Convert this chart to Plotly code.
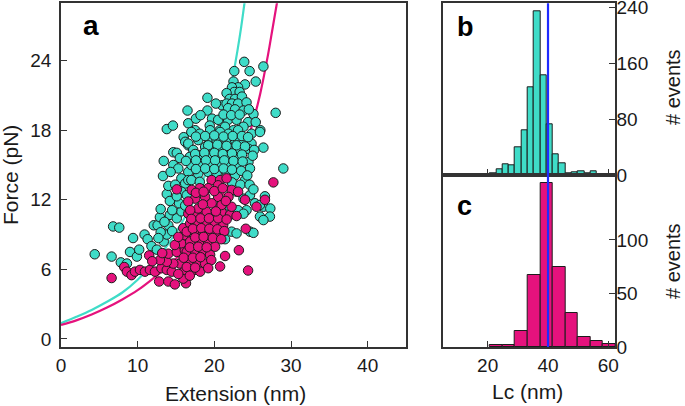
import plotly.graph_objects as go

# ---------------- data ----------------
TURQ_EXT = [
    4.4, 6.6, 6.8, 7.6, 7.8, 8.6, 9.0, 9.4, 9.9, 10.2, 10.9, 11.3, 11.8, 12.1, 12.6, 12.5, 12.9, 13.4, 13.8, 14.0,
    14.2, 15.1, 15.7, 13.0, 12.7, 14.5, 13.5,
    13.8, 14.6, 16.0, 16.2, 16.6, 14.65, 15.1, 15.5, 13.4, 14.65, 15.3, 16.6, 13.3, 15.7, 16.2, 16.6, 15.7, 13.8,
    16.4, 14.2, 15.4, 16.2, 13.0, 14.5, 14.0, 14.9, 14.3, 15.1,
    16.5, 16.6, 17.6, 17.5, 19.1, 19.1, 19.7, 20.5, 19.4, 20.7,
    23.9, 26.4, 22.6, 24.6, 25.4, 24.0, 22.5, 23.1, 22.3, 22.6, 23.3, 21.6, 22.0, 22.7, 23.6, 21.0, 21.6, 22.3,
    23.1, 24.2, 21.8, 22.7, 23.8, 25.1, 28.0, 21.8, 22.9, 24.4, 25.4, 21.4, 23.8, 22.5, 26.0, 20.2,
    17.0, 18.1, 19.45, 20.75, 21.85, 23.1, 24.85, 25.95,
    16.6, 17.9, 19.2, 20.3, 21.6, 22.7, 23.8, 24.85, 26.4,
    17.25, 18.8, 19.9, 20.95, 22.25, 23.35, 24.45,
    16.8, 18.1, 19.2, 20.5, 21.6, 22.9, 24.45,
    17.0, 18.35, 19.45, 20.75, 21.85, 22.9, 24.65,
    17.9, 19.2, 20.3, 21.6, 22.7, 24.0,
    17.0, 18.1, 29.0,
    22.9, 23.8, 24.65, 25.3, 26.6, 26.4, 27.3, 25.95, 24.2, 23.1,
    17.6, 18.8, 20.0, 21.2, 22.4, 23.6, 24.4,
    19.2, 20.4, 21.6, 22.9, 24.0, 25.2,
    17.5, 18.7, 20.0, 21.1, 22.3, 23.6, 25.0,
    16.3, 17.6, 18.9, 20.1, 21.3, 22.5, 23.7,
    17.6, 18.8, 20.0, 21.2, 22.3, 23.5, 24.3,
    18.2, 21.2, 22.2, 23.3, 24.5,
    22.3, 23.4, 24.6, 25.1,
    23.8, 25.95, 27.25, 26.4, 24.65, 25.1, 22.25, 22.9, 21.4, 22.0,
]
TURQ_FORCE = [
    7.3, 7.1, 9.7, 9.6, 6.6, 6.5, 7.5, 8.7, 7.1, 7.7, 9.0, 8.6, 8.0, 9.8, 9.8, 7.7, 10.5, 8.4, 9.0, 9.8,
    10.7, 10.4, 11.0, 9.2, 8.7, 9.3, 10.1,
    18.1, 18.4, 17.4, 17.0, 16.7, 16.1, 16.05, 15.6, 15.35, 15.0, 14.7, 14.4, 14.05, 13.85, 13.4, 13.7, 12.7, 12.5,
    12.4, 11.9, 11.7, 11.5, 11.2, 11.1, 13.2, 13.3, 14.4, 12.3,
    19.7, 18.6, 19.0, 18.0, 20.8, 19.7, 19.0, 18.9, 18.4, 18.0,
    23.9, 23.5, 23.1, 23.1, 22.2, 21.95, 22.2, 21.7, 21.7, 21.3, 21.3, 21.2, 20.7, 20.7, 20.9, 20.15, 20.3, 20.3,
    20.3, 20.4, 19.9, 19.8, 19.7, 19.4, 19.5, 18.9, 18.9, 18.7, 18.7, 18.3, 18.3, 18.0, 18.0, 20.3,
    17.85, 17.7, 18.0, 17.85, 17.7, 18.0, 17.7, 17.85,
    16.85, 17.15, 17.3, 17.15, 17.0, 17.15, 17.0, 16.85, 16.5,
    16.3, 16.55, 16.4, 16.3, 16.4, 16.3, 16.4,
    15.7, 15.85, 15.7, 15.7, 15.7, 15.55, 15.25,
    15.0, 15.15, 15.0, 15.15, 15.15, 14.85, 14.7,
    14.25, 14.4, 14.25, 14.4, 14.1, 13.7,
    13.7, 13.55, 14.7,
    12.7, 12.1, 12.4, 11.7, 12.3, 11.4, 11.25, 11.55, 11.1, 11.1,
    17.45, 17.5, 17.55, 17.45, 17.5, 17.5, 17.4,
    16.7, 16.75, 16.65, 16.7, 16.6, 16.3,
    15.95, 16.05, 16.05, 15.95, 16.0, 15.9, 15.8,
    15.35, 15.4, 15.4, 15.4, 15.4, 15.35, 15.3,
    14.65, 14.7, 14.65, 14.7, 14.6, 14.5, 14.1,
    19.3, 19.35, 19.3, 19.35, 19.8,
    13.5, 13.3, 13.3, 12.9,
    10.8, 10.55, 10.55, 10.25, 9.25, 9.15, 9.25, 9.1, 8.6, 11.4,
]

MAG_EXT = [
    6.6, 8.25, 8.6, 9.2, 9.65, 10.3, 10.95, 11.6, 12.25, 13.1, 13.8, 14.45, 12.8, 14.0, 14.85, 16.3, 15.95, 16.15,
    15.5, 14.65, 13.8, 12.9, 14.0, 15.1, 16.15, 15.7, 14.85, 16.15, 15.3, 15.95, 11.5, 11.9, 13.2,
    16.6, 17.5, 18.55, 19.85, 20.95, 22.05,
    16.85, 17.9, 19.0, 20.1, 21.15,
    16.4, 17.5, 18.55, 19.65, 20.5,
    16.85, 18.15, 19.2, 20.1,
    16.4, 17.5, 18.55, 19.45,
    16.85, 17.9, 18.8,
    17.05, 18.15,
    20.75, 21.4, 23.2, 24.4, 24.1, 22.9, 24.0, 27.7, 26.6, 25.5,
    19.65, 20.75, 21.6, 20.5, 19.2, 18.1, 17.05, 22.25, 23.1, 21.85, 20.5, 18.8, 17.5, 16.6, 19.65, 20.95, 22.25,
    17.9, 16.85, 19.0,
    15.1,
    17.0, 18.2, 19.3, 20.5, 21.6,
    17.2, 18.3, 19.35, 20.4, 21.3,
    17.5, 18.6, 19.8, 20.9,
    16.8, 17.9, 19.0,
    16.0, 17.2, 18.2, 19.6,
    16.4, 17.5, 19.2,
    16.8, 15.3,
    18.5, 20.2, 21.5, 17.6, 18.6, 20.0, 21.1,
]
MAG_FORCE = [
    5.25, 6.2, 5.8, 5.5, 5.8, 5.95, 5.8, 5.95, 5.8, 6.1, 5.95, 5.8, 4.95, 4.95, 4.7, 4.8, 5.2, 5.95,
    6.5, 6.5, 6.65, 6.8, 7.35, 7.5, 7.65, 8.25, 8.1, 8.95, 8.8, 9.55, 7.2, 6.7, 7.4,
    10.8, 10.7, 10.8, 10.8, 10.95, 10.7,
    9.95, 10.1, 9.95, 9.95, 9.8,
    9.25, 9.1, 9.25, 9.1, 8.95,
    8.4, 8.4, 8.25, 7.95,
    7.5, 7.35, 7.5, 7.25,
    6.65, 6.5, 6.5,
    5.8, 5.8,
    6.25, 7.15, 7.65, 5.9, 9.5, 10.6, 12.0, 13.5, 12.0, 11.4,
    13.7, 13.7, 13.85, 13.25, 13.0, 13.0, 12.85, 12.85, 12.7, 12.25, 12.25, 12.25, 12.1, 11.85, 11.7, 11.55, 11.4,
    11.25, 11.1, 10.95,
    12.9,
    10.35, 10.4, 10.4, 10.4, 10.3,
    9.5, 9.55, 9.5, 9.45, 9.3,
    8.75, 8.8, 8.7, 8.6,
    7.9, 7.95, 7.9,
    7.0, 7.0, 7.05, 6.8,
    6.2, 6.15, 6.1,
    5.45, 5.6,
    11.6, 11.0, 11.9, 12.6, 12.7, 12.75, 13.0,
]

# WLC fit curves
TURQ_FIT_EXT = [0, 2, 4, 6, 8, 10, 12, 14, 16, 18, 20, 21, 22, 22.5, 23, 23.5, 24]
TURQ_FIT_FORCE = [1.35, 1.9, 2.5, 3.2, 4.0, 5.1, 6.5, 8.2, 10.3, 12.9, 16.2, 18.4, 21.2, 22.9, 24.8, 26.9, 29.3]
MAG_FIT_EXT = [0, 2, 4, 6, 8, 10, 12, 14, 16, 18, 20, 22, 24, 25, 26, 27, 27.6, 28.3]
MAG_FIT_FORCE = [1.2, 1.6, 2.1, 2.7, 3.4, 4.2, 5.2, 6.3, 7.6, 9.2, 11.2, 13.6, 16.6, 18.6, 21.2, 24.5, 26.8, 29.5]

# histograms of contour length Lc (nm)
HIST_B_CENTERS = [11.44, 13.52, 15.6, 17.68, 21.84, 23.92, 26.0, 28.08, 30.16, 32.24, 34.32, 36.4, 38.48, 40.56,
                  42.64, 44.72, 46.8, 48.88, 50.96, 53.04, 55.12, 57.2]
HIST_B_COUNTS = [1, 1, 1, 1, 3, 8, 15, 14, 40, 64, 125, 234, 142, 72, 29, 17, 3, 4, 5, 2, 5, 1]
HIST_B_WIDTH = 2.08
HIST_C_CENTERS = [22.88, 27.04, 31.2, 35.36, 39.52, 43.68, 47.84, 52.0, 56.16, 60.32]
HIST_C_COUNTS = [2, 2, 15, 67, 153, 75, 32, 9, 6, 3]
HIST_C_WIDTH = 4.16
LC_MEAN = 40

A_X_TICKS = [0, 10, 20, 30, 40]
A_Y_TICKS = [0, 6, 12, 18, 24]
B_Y_TICKS = [0, 80, 160, 240]
C_Y_TICKS = [0, 50, 100]
LC_TICKS = [20, 40, 60]

# ---------------- style ----------------
TURQ = "#3fdcc8"
MAG = "#e5127d"
EDGE = "#1c1c1c"
AXC = "#333333"
FONT = "Liberation Sans, Arial, Helvetica, sans-serif"
W, H = 685, 406


def px(x):
    return x / W


def py(y):
    return 1 - y / H


fig = go.Figure()

fig.add_trace(go.Scatter(x=TURQ_FIT_EXT, y=TURQ_FIT_FORCE, mode="lines", line=dict(color=TURQ, width=2.2, shape="spline"),
                         xaxis="x", yaxis="y", hoverinfo="skip"))
fig.add_trace(go.Scatter(x=MAG_FIT_EXT, y=MAG_FIT_FORCE, mode="lines", line=dict(color=MAG, width=2.2, shape="spline"),
                         xaxis="x", yaxis="y", hoverinfo="skip"))
fig.add_trace(go.Scatter(x=TURQ_EXT, y=TURQ_FORCE, mode="markers",
                         marker=dict(size=9.5, color=TURQ, line=dict(color=EDGE, width=1)), xaxis="x", yaxis="y"))
fig.add_trace(go.Scatter(x=MAG_EXT, y=MAG_FORCE, mode="markers",
                         marker=dict(size=9.5, color=MAG, line=dict(color=EDGE, width=1)), xaxis="x", yaxis="y"))

fig.add_trace(go.Bar(x=HIST_B_CENTERS, y=HIST_B_COUNTS, width=[HIST_B_WIDTH] * len(HIST_B_CENTERS),
                     marker=dict(color=TURQ, line=dict(color=EDGE, width=1)), xaxis="x2", yaxis="y2"))
fig.add_trace(go.Bar(x=HIST_C_CENTERS, y=HIST_C_COUNTS, width=[HIST_C_WIDTH] * len(HIST_C_CENTERS),
                     marker=dict(color=MAG, line=dict(color=EDGE, width=1)), xaxis="x3", yaxis="y3"))

axis_common = dict(showline=True, linecolor=AXC, linewidth=1.5, mirror=True, showgrid=False, zeroline=False,
                   ticks="inside", ticklen=6, tickwidth=1.3, tickcolor=AXC, automargin=False,
                   ticklabeloverflow="allow",
                   tickfont=dict(family=FONT, size=19, color="#1a1a1a"))

A_X0, A_X1, TOP, BOT, MID = 61, 406, 3.3, 347, 175
B_X0, B_X1 = 442.7, 615

fig.update_layout(
    width=W, height=H, margin=dict(l=0, r=0, t=0, b=0, pad=0, autoexpand=False),
    paper_bgcolor="white", plot_bgcolor="white", showlegend=False, bargap=0,
    xaxis=dict(domain=[px(A_X0), px(A_X1)], range=[0, 45], tickvals=A_X_TICKS, anchor="y", **axis_common),
    yaxis=dict(domain=[py(BOT), py(TOP)], range=[-0.7, 28.95], tickvals=A_Y_TICKS, anchor="x",
               ticklabelstandoff=4, **axis_common),
    xaxis2=dict(domain=[px(B_X0), px(B_X1)], range=[5.1, 62.2], tickvals=LC_TICKS, showticklabels=False,
                anchor="y2", **axis_common),
    yaxis2=dict(domain=[py(MID), py(TOP)], range=[0, 245.3], tickvals=B_Y_TICKS, side="right", anchor="x2",
                ticklabelstandoff=-4, **axis_common),
    xaxis3=dict(domain=[px(B_X0), px(B_X1)], range=[5.1, 62.2], tickvals=LC_TICKS, anchor="y3", **axis_common),
    yaxis3=dict(domain=[py(BOT), py(MID)], range=[0, 160.6], tickvals=C_Y_TICKS, side="right", anchor="x3",
                ticklabelstandoff=-4, **axis_common),
)

fig.add_shape(type="line", xref="x2", yref="paper", x0=LC_MEAN, x1=LC_MEAN, y0=py(BOT), y1=py(TOP),
              line=dict(color="#1f2bff", width=2.2))

title_font = dict(family=FONT, size=21, color="#1a1a1a")
events_font = dict(family=FONT, size=20, color="#1a1a1a")


def ann(text, x, y, font, xanchor="center", **kw):
    fig.add_annotation(text=text, x=px(x), y=py(y), xref="paper", yref="paper", showarrow=False, font=font,
                       xanchor=xanchor, yanchor="middle", **kw)


ann("Extension (nm)", 235, 393, title_font)
ann("Force (pN)", 10, 175, title_font, textangle=-90)
ann("Lc (nm)", 527, 391, title_font)
ann("# events", 673, 87, events_font, textangle=-90)
ann("# events", 673, 261, events_font, textangle=-90)
ann("<b>a</b>", 81, 25.5, dict(family=FONT, size=28, color="black"), xanchor="left")
ann("<b>b</b>", 455, 26.5, dict(family=FONT, size=27, color="black"), xanchor="left")
ann("<b>c</b>", 455, 205.5, dict(family=FONT, size=27, color="black"), xanchor="left")

fig.write_html("out.html", config={"displayModeBar": False},
               post_script="document.body.style.margin='0px';document.body.style.padding='0px';")
